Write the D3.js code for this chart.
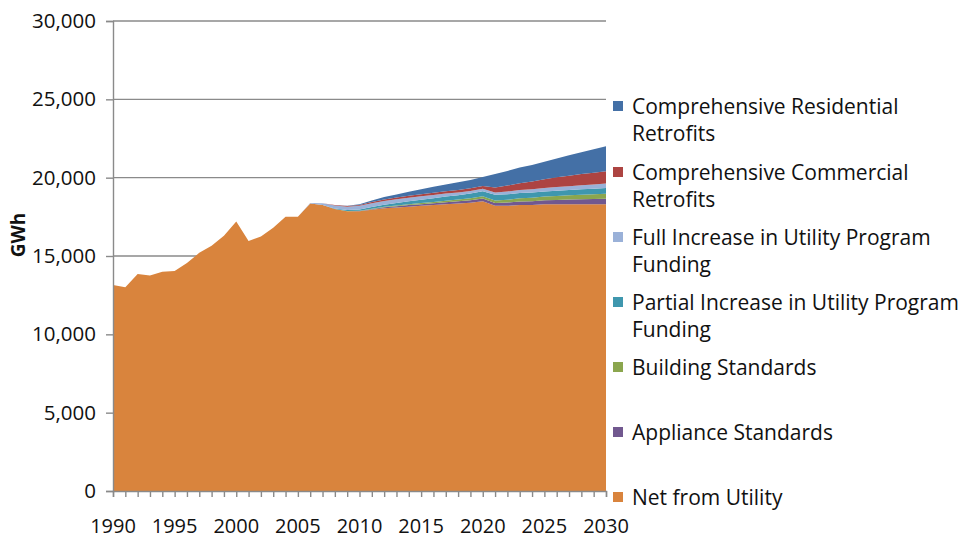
<!DOCTYPE html>
<html>
<head>
<meta charset="utf-8">
<script src="https://cdn.jsdelivr.net/npm/d3@7"></script>
<style>
  html, body { margin: 0; padding: 0; background: #fff; }
  svg { display: block; }
  text { font-family: "Open Sans", "Noto Sans", sans-serif; fill: #111; }
</style>
</head>
<body>
<svg id="chart" width="972" height="539"></svg>
<script>
// ---- Data (GWh) ----
const years = d3.range(1990, 2031);
const netFromUtility = [13150, 13000, 13850, 13750, 14000, 14050, 14550, 15200, 15650, 16300,
  17200, 15950, 16250, 16800, 17500, 17500, 18350, 18250, 18000, 17850,
  17850, 17950, 18050, 18100, 18150, 18200, 18250, 18300, 18350, 18400,
  18500, 18200, 18200, 18250, 18250, 18300, 18300, 18300, 18300, 18300, 18300];
// 1990-2005 zero, values 2006-2030
const zeros16 = new Array(16).fill(0);
const applianceStandards = zeros16.concat([0, 0, 0, 10, 20, 40, 60, 80, 100, 110, 120, 130, 140, 160, 170, 190, 210, 230, 250, 260, 280, 300, 320, 340, 360]);
const buildingStandards = zeros16.concat([0, 0, 0, 10, 20, 30, 40, 50, 60, 70, 80, 100, 110, 130, 150, 160, 180, 200, 220, 230, 250, 270, 290, 300, 320]);
const partialIncrease = zeros16.concat([0, 10, 30, 60, 80, 100, 120, 150, 180, 210, 240, 260, 280, 300, 320, 360, 350, 340, 330, 330, 340, 350, 350, 360, 360]);
const fullIncrease = zeros16.concat([30, 100, 200, 220, 230, 240, 240, 240, 230, 220, 210, 200, 180, 160, 150, 150, 180, 200, 210, 220, 230, 240, 250, 260, 280]);
const commercialRetrofits = zeros16.concat([0, 0, 20, 40, 60, 80, 100, 110, 120, 130, 140, 150, 160, 170, 180, 320, 380, 430, 490, 560, 620, 670, 720, 760, 790]);
const residentialRetrofits = zeros16.concat([0, 0, 0, 20, 50, 100, 150, 200, 260, 320, 380, 430, 480, 530, 580, 860, 930, 1000, 1060, 1120, 1210, 1300, 1400, 1500, 1600]);

const seriesNames = ["Net from Utility", "Appliance Standards", "Building Standards",
  "Partial Increase in Utility Program Funding", "Full Increase in Utility Program Funding",
  "Comprehensive Commercial Retrofits", "Comprehensive Residential Retrofits"];
const seriesValues = [netFromUtility, applianceStandards, buildingStandards, partialIncrease,
  fullIncrease, commercialRetrofits, residentialRetrofits];
const seriesColors = ["#D9843D", "#71588F", "#8BA64E", "#3F97AE", "#9AB1D8", "#AD4442", "#4470A6"];

const yTicks = [0, 5000, 10000, 15000, 20000, 25000, 30000];
const xTickLabels = [1990, 1995, 2000, 2005, 2010, 2015, 2020, 2025, 2030];

// legend: display order top to bottom, each as lines
const legendItems = [
  {key: 6, lines: ["Comprehensive Residential", "Retrofits"]},
  {key: 5, lines: ["Comprehensive Commercial", "Retrofits"]},
  {key: 4, lines: ["Full Increase in Utility Program", "Funding"]},
  {key: 3, lines: ["Partial Increase in Utility Program", "Funding"]},
  {key: 2, lines: ["Building Standards"]},
  {key: 1, lines: ["Appliance Standards"]},
  {key: 0, lines: ["Net from Utility"]}
];

// ---- Build table ----
const table = years.map((yr, i) => {
  const row = {year: yr};
  seriesNames.forEach((n, k) => row[n] = seriesValues[k][i]);
  return row;
});

const svg = d3.select("#chart");
const plotL = 113, plotR = 606, plotT = 21, plotB = 491;

const x = d3.scaleLinear().domain([1990, 2030]).range([plotL, plotR]);
const y = d3.scaleLinear().domain([0, 30000]).range([plotB, plotT]);

// gridlines
svg.append("g").selectAll("line").data(yTicks.filter(d => d > 0)).join("line")
  .attr("x1", plotL).attr("x2", plotR)
  .attr("y1", d => y(d)).attr("y2", d => y(d))
  .attr("stroke", "#8a8a8a").attr("stroke-width", 1.4);

// stacked areas
const stack = d3.stack().keys(seriesNames);
const layers = stack(table);
const area = d3.area()
  .x(d => x(d.data.year))
  .y0(d => y(d[0]))
  .y1(d => y(d[1]));

svg.append("g").selectAll("path").data(layers).join("path")
  .attr("d", area)
  .attr("fill", (d, i) => seriesColors[i]);

// y axis
const yAxis = d3.axisLeft(y).tickValues(yTicks).tickSize(7).tickPadding(10)
  .tickFormat(d3.format(","));
const gy = svg.append("g").attr("transform", `translate(${plotL},0)`).call(yAxis);
gy.select(".domain").attr("stroke", "#8a8a8a").attr("stroke-width", 1.4);
gy.selectAll(".tick line").attr("stroke", "#8a8a8a").attr("stroke-width", 1.4);
gy.selectAll(".tick text").style("font-size", "20.5px").attr("fill", "#111")
  .style("font-family", "'Open Sans', sans-serif");

// x axis with yearly minor ticks
const xAxis = d3.axisBottom(x).tickValues(years).tickSize(6).tickFormat("");
const gx = svg.append("g").attr("transform", `translate(0,${plotB})`).call(xAxis);
gx.select(".domain").attr("stroke", "#8a8a8a").attr("stroke-width", 1.4);
gx.selectAll(".tick line").attr("stroke", "#8a8a8a").attr("stroke-width", 1.4);

svg.append("g").selectAll("text").data(xTickLabels).join("text")
  .attr("x", d => x(d)).attr("y", 533)
  .attr("text-anchor", "middle")
  .style("font-size", "20px")
  .text(d => d);

// y title
svg.append("text")
  .attr("transform", `translate(25,235) rotate(-90)`)
  .attr("text-anchor", "middle")
  .style("font-size", "19px").style("font-weight", "bold")
  .text("GWh");

// legend
const legendY = [106, 172, 237, 302, 367, 432, 497];
const lg = svg.append("g");
legendItems.forEach((it, i) => {
  const cy = legendY[i];
  lg.append("rect").attr("x", 613).attr("y", cy - 5).attr("width", 10).attr("height", 10)
    .attr("fill", seriesColors[it.key]);
  it.lines.forEach((ln, j) => {
    lg.append("text").attr("x", 632).attr("y", cy + 8 + j * 26.5)
      .style("font-size", "21px")
      .text(ln);
  });
});
</script>
</body>
</html>
